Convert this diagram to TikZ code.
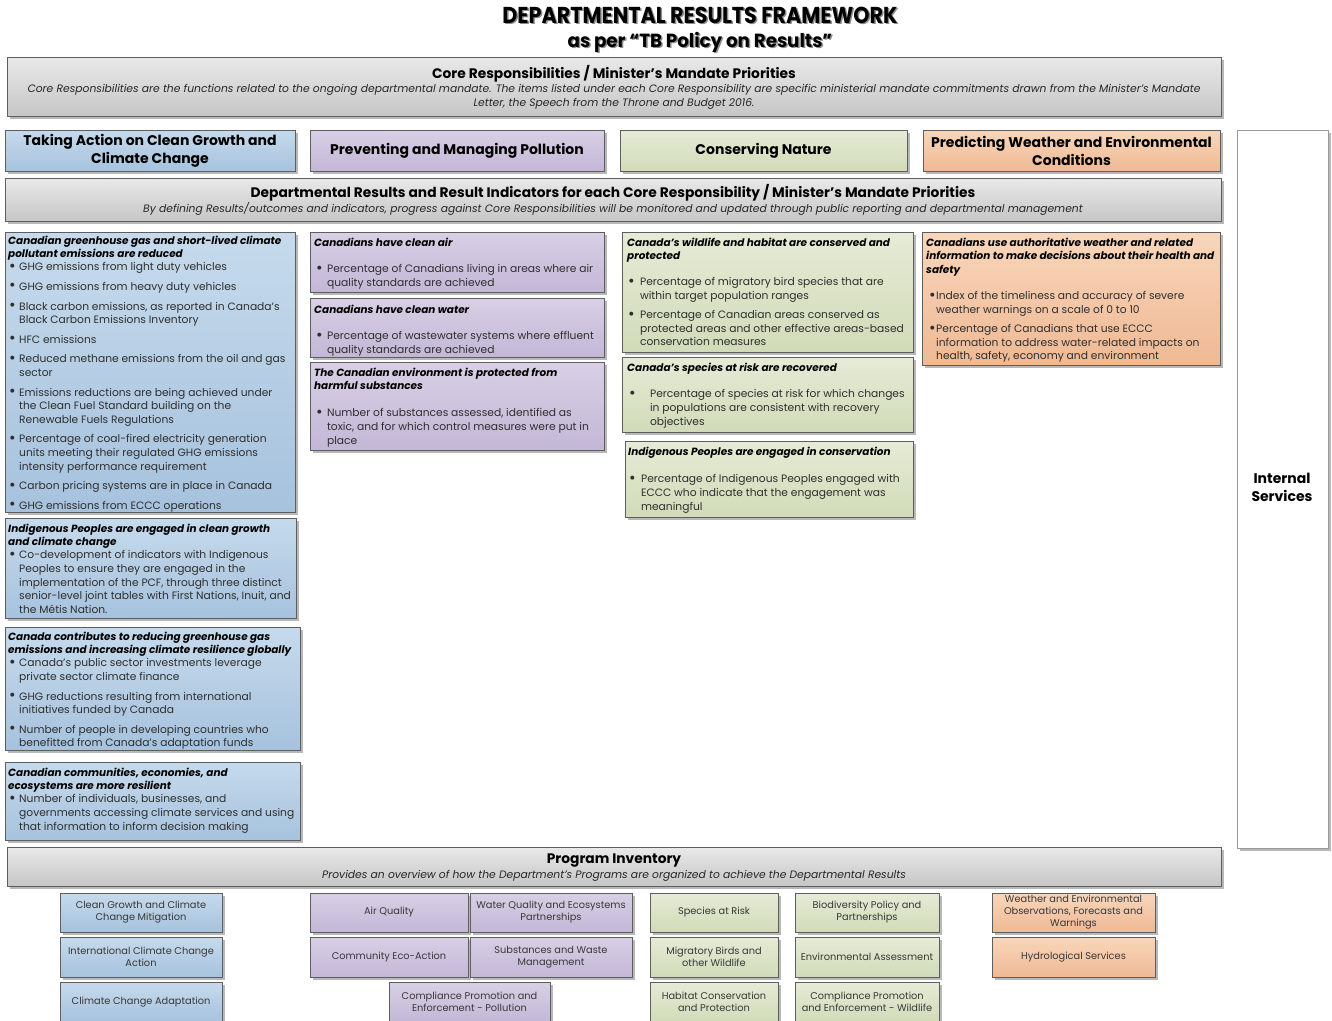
\documentclass[tikz,border=0pt]{standalone}
\usepackage{fontspec}
\setmainfont{Poppins}
\usetikzlibrary{shadows}
\definecolor{bdr}{HTML}{5E5E5E}
\definecolor{gryT}{HTML}{E9E9E9}
\definecolor{gryB}{HTML}{C6C6C6}
\definecolor{bluT}{HTML}{C6DAEC}
\definecolor{bluB}{HTML}{A6C2DD}
\definecolor{purT}{HTML}{D8D0E5}
\definecolor{purB}{HTML}{C3B7D6}
\definecolor{grnT}{HTML}{E6EBD6}
\definecolor{grnB}{HTML}{D1DBB8}
\definecolor{orgT}{HTML}{F8D6BB}
\definecolor{orgB}{HTML}{EFB994}
\tikzset{
  boxbase/.style={draw=bdr, line width=0.8pt, inner sep=0pt, outer sep=0pt,
    drop shadow={shadow xshift=2.5pt, shadow yshift=-2.5pt, fill=black!55, opacity=0.5}},
  graybox/.style={boxbase, top color=gryT, bottom color=gryB},
  bluebox/.style={boxbase, top color=bluT, bottom color=bluB},
  purplebox/.style={boxbase, top color=purT, bottom color=purB},
  greenbox/.style={boxbase, top color=grnT, bottom color=grnB},
  orangebox/.style={boxbase, top color=orgT, bottom color=orgB},
  whitebox/.style={boxbase, draw=black!40, fill=white},
  hdrtext/.style={font=\fontsize{14}{18}\selectfont\bfseries, align=center},
  bandtitle/.style={font=\fontsize{13.8}{14}\selectfont\bfseries, inner sep=0pt},
  bandsub/.style={font=\fontsize{10.75}{14}\selectfont\itshape, text=black!85, align=center, inner sep=0pt},
  rtitle/.style={font=\fontsize{10.45}{13.7}\selectfont\bfseries\itshape, align=left, anchor=north west, inner sep=0pt},
  rbody/.style={font=\fontsize{10.7}{13.6}\selectfont, text=black!82, align=left, anchor=north west, inner sep=0pt},
  progtext/.style={font=\fontsize{9.8}{12}\selectfont, text=black!78, align=center},
}
\newcommand\mybox[7]{%
  \node[#2, minimum width={(#5-#3)*1pt}, minimum height={(#6-#4)*1pt}] (#1) at ({(#3+#5)/2},{(#4+#6)/2}) {#7};}
\newcommand\bu[1][10pt]{\makebox[#1][l]{\raisebox{-0.5pt}{\scalebox{1.5}{\textbullet}}}}
\newcommand\cont[1][10pt]{\hspace*{#1}}
\begin{document}
\begin{tikzpicture}[x=1pt,y=-1pt]
\useasboundingbox (0,0) rectangle (1332,1020);
\clip (0,0) rectangle (1332,1020);
\fill[white] (0,0) rectangle (1332,1020);

% Title
\node[text=black!45, font=\fontsize{23}{26}\selectfont\bfseries] (ttlsh) at (701.5,16.5) {\scalebox{0.9}[1]{DEPARTMENTAL RESULTS FRAMEWORK}};
\node[font=\fontsize{23}{26}\selectfont\bfseries] (ttl) at (700,15) {\scalebox{0.9}[1]{DEPARTMENTAL RESULTS FRAMEWORK}};
\node[text=black!45, font=\fontsize{19}{22}\selectfont\bfseries] (subsh) at (701.5,43.5) {\scalebox{0.96}[1]{as per “TB Policy on Results”}};
\node[font=\fontsize{19}{22}\selectfont\bfseries] (sub) at (700,42) {\scalebox{0.96}[1]{as per “TB Policy on Results”}};

% Core responsibilities band
\mybox{core}{graybox}{7}{57}{1221}{116}{}
\node[bandtitle] (coret) at (614,73.5) {Core Responsibilities / Minister’s Mandate Priorities};
\node[bandsub] (cores) at (614,96.5) {Core Responsibilities are the functions related to the ongoing departmental mandate. The items listed under each Core Responsibility are specific ministerial mandate commitments drawn from the Minister’s Mandate\\Letter, the Speech from the Throne and Budget 2016.};

% Column headers
\mybox{h1}{bluebox}{5}{130}{295}{171}{}
\node[hdrtext] (h1t) at (h1) {Taking Action on Clean Growth and\\Climate Change};
\mybox{h2}{purplebox}{310}{130}{604}{171}{}
\node[hdrtext] (h2t) at (h2) {Preventing and Managing Pollution};
\mybox{h3}{greenbox}{620}{130}{907}{171}{}
\node[hdrtext] (h3t) at (h3) {Conserving Nature};
\mybox{h4}{orangebox}{923}{130}{1220}{171}{}
\node[hdrtext] (h4t) at (h4) {Predicting Weather and Environmental\\Conditions};

% Internal services
\mybox{isv}{whitebox}{1237}{130}{1328}{848}{}
\node[hdrtext] (isvt) at (1282,487) {Internal\\Services};

% Departmental results band
\mybox{dr}{graybox}{5}{178}{1221}{221}{}
\node[bandtitle] (drt) at (613,192.5) {Departmental Results and Result Indicators for each Core Responsibility / Minister’s Mandate Priorities};
\node[bandsub] (drs) at (613,208.5) {By defining Results/outcomes and indicators, progress against Core Responsibilities will be monitored and updated through public reporting and departmental management};

% Blue results
\mybox{b1}{bluebox}{5}{232}{295}{512}{}
\node[rtitle] (b1t) at (8,235.5) {Canadian greenhouse gas and short-lived climate\\pollutant emissions are reduced};
\node[rbody] (b1b) at (9,262.5) {\bu GHG emissions from light duty vehicles\\[6pt]
\bu GHG emissions from heavy duty vehicles\\[6pt]
\bu Black carbon emissions, as reported in Canada’s\\\cont Black Carbon Emissions Inventory\\[6pt]
\bu HFC emissions\\[6pt]
\bu Reduced methane emissions from the oil and gas\\\cont sector\\[6pt]
\bu Emissions reductions are being achieved under\\\cont the Clean Fuel Standard building on the\\\cont Renewable Fuels Regulations\\[6pt]
\bu Percentage of coal-fired electricity generation\\\cont units meeting their regulated GHG emissions\\\cont intensity performance requirement\\[6pt]
\bu Carbon pricing systems are in place in Canada\\[6pt]
\bu GHG emissions from ECCC operations};

\mybox{b2}{bluebox}{5}{518}{296}{618}{}
\node[rtitle] (b2t) at (8,523.5) {Indigenous Peoples are engaged in clean growth\\and climate change};
\node[rbody] (b2b) at (9,550.5) {\bu Co-development of indicators with Indigenous\\\cont Peoples to ensure they are engaged in the\\\cont implementation of the PCF, through three distinct\\\cont senior-level joint tables with First Nations, Inuit, and\\\cont the Métis Nation.};

\mybox{b3}{bluebox}{5}{627}{300}{750}{}
\node[rtitle] (b3t) at (8,631.5) {Canada contributes to reducing greenhouse gas\\emissions and increasing climate resilience globally};
\node[rbody] (b3b) at (9,658.5) {\bu Canada’s public sector investments leverage\\\cont private sector climate finance\\[6pt]
\bu GHG reductions resulting from international\\\cont initiatives funded by Canada\\[6pt]
\bu Number of people in developing countries who\\\cont benefitted from Canada’s adaptation funds};

\mybox{b4}{bluebox}{5}{762}{300}{840}{}
\node[rtitle] (b4t) at (8,767.5) {Canadian communities, economies, and\\ecosystems are more resilient};
\node[rbody] (b4b) at (9,794.5) {\bu Number of individuals, businesses, and\\\cont governments accessing climate services and using\\\cont that information to inform decision making};

% Purple results
\mybox{p1}{purplebox}{310}{232}{604}{292}{}
\node[rtitle] (p1t) at (314,237.5) {Canadians have clean air};
\node[rbody] (p1b) at (316,264.5) {\bu[8pt] Percentage of Canadians living in areas where air\\\cont[8pt] quality standards are achieved};

\mybox{p2}{purplebox}{310}{298}{604}{357}{}
\node[rtitle] (p2t) at (314,304.5) {Canadians have clean water};
\node[rbody] (p2b) at (316,331.5) {\bu[8pt] Percentage of wastewater systems where effluent\\\cont[8pt] quality standards are achieved};

\mybox{p3}{purplebox}{310}{362}{604}{450}{}
\node[rtitle] (p3t) at (314,367.5) {The Canadian environment is protected from\\harmful substances};
\node[rbody] (p3b) at (316,408.5) {\bu[8pt] Number of substances assessed, identified as\\\cont[8pt] toxic, and for which control measures were put in\\\cont[8pt] place};

% Green results
\mybox{g1}{greenbox}{622}{232}{913}{352}{}
\node[rtitle] (g1t) at (627,237.5) {Canada’s wildlife and habitat are conserved and\\protected};
\node[rbody] (g1b) at (628,277.5) {\bu[9pt] Percentage of migratory bird species that are\\\cont[9pt] within target population ranges\\[5.5pt]
\bu[9pt] Percentage of Canadian areas conserved as\\\cont[9pt] protected areas and other effective areas-based\\\cont[9pt] conservation measures};

\mybox{g2}{greenbox}{622}{357}{913}{432}{}
\node[rtitle] (g2t) at (627,362.5) {Canada’s species at risk are recovered};
\node[rbody] (g2b) at (629,389.5) {\bu[18pt] Percentage of species at risk for which changes\\\cont[18pt] in populations are consistent with recovery\\\cont[18pt] objectives};

\mybox{g3}{greenbox}{625}{441}{913}{517}{}
\node[rtitle] (g3t) at (628,446.5) {Indigenous Peoples are engaged in conservation};
\node[rbody] (g3b) at (629,474.5) {\bu[9pt] Percentage of Indigenous Peoples engaged with\\\cont[9pt] ECCC who indicate that the engagement was\\\cont[9pt] meaningful};

% Orange results
\mybox{o1}{orangebox}{922}{232}{1220}{365}{}
\node[rtitle] (o1t) at (926,237.5) {Canadians use authoritative weather and related\\information to make decisions about their health and\\safety};
\node[rbody] (o1b) at (929,291.5) {\bu[7pt]Index of the timeliness and accuracy of severe\\\cont[7pt]weather warnings on a scale of 0 to 10\\[5.5pt]
\bu[7pt]Percentage of Canadians that use ECCC\\\cont[7pt]information to address water-related impacts on\\\cont[7pt]health, safety, economy and environment};

% Program inventory band
\mybox{pi}{graybox}{7}{847}{1221}{886}{}
\node[bandtitle] (pit) at (614,860.5) {Program Inventory};
\node[bandsub] (pis) at (614,875.5) {Provides an overview of how the Department’s Programs are organized to achieve the Departmental Results};

% Programs - blue
\mybox{pb1}{bluebox,progtext}{60}{893}{222}{932}{Clean Growth and Climate\\Change Mitigation}
\mybox{pb2}{bluebox,progtext}{60}{937}{222}{977}{International Climate Change\\Action}
\mybox{pb3}{bluebox,progtext}{60}{982}{222}{1022}{Climate Change Adaptation}
% Programs - purple
\mybox{pp1}{purplebox,progtext}{310}{893}{468}{932}{Air Quality}
\mybox{pp2}{purplebox,progtext}{470}{893}{632}{932}{Water Quality and Ecosystems\\Partnerships}
\mybox{pp3}{purplebox,progtext}{310}{937}{468}{977}{Community Eco-Action}
\mybox{pp4}{purplebox,progtext}{470}{937}{632}{977}{Substances and Waste\\Management}
\mybox{pp5}{purplebox,progtext}{389}{982}{550}{1022}{Compliance Promotion and\\Enforcement - Pollution}
% Programs - green
\mybox{pg1}{greenbox,progtext}{650}{893}{778}{932}{Species at Risk}
\mybox{pg2}{greenbox,progtext}{795}{893}{939}{932}{Biodiversity Policy and\\Partnerships}
\mybox{pg3}{greenbox,progtext}{650}{937}{778}{977}{Migratory Birds and\\other Wildlife}
\mybox{pg4}{greenbox,progtext}{795}{937}{939}{977}{Environmental Assessment}
\mybox{pg5}{greenbox,progtext}{650}{982}{778}{1022}{Habitat Conservation\\and Protection}
\mybox{pg6}{greenbox,progtext}{795}{982}{939}{1022}{Compliance Promotion\\and Enforcement - Wildlife}
% Programs - orange
\mybox{po1}{orangebox,progtext}{992}{893}{1155}{932}{Weather and Environmental\\Observations, Forecasts and\\Warnings}
\mybox{po2}{orangebox,progtext}{992}{937}{1155}{977}{Hydrological Services}
\end{tikzpicture}
\end{document}
